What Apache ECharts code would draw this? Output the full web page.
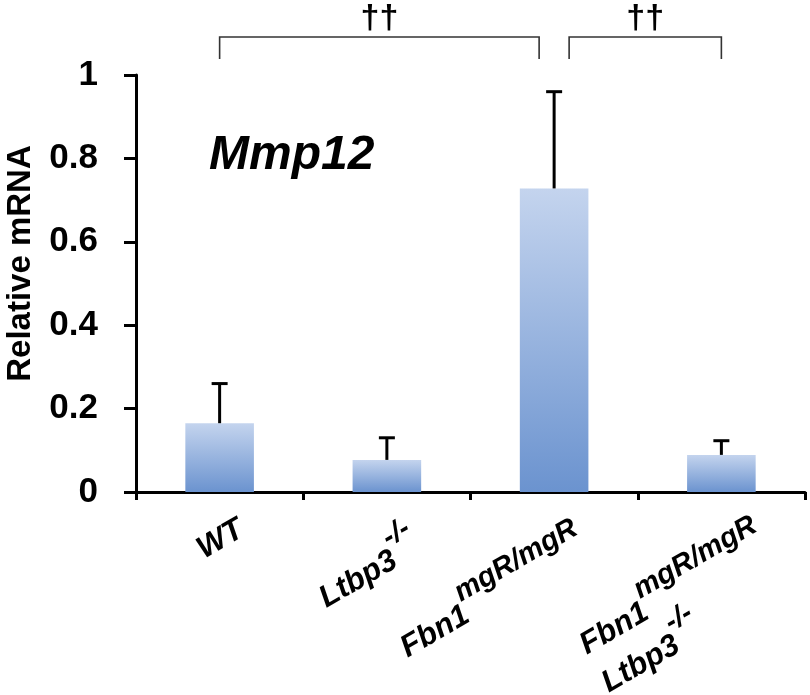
<!DOCTYPE html>
<html><head><meta charset="utf-8">
<script src="https://cdn.jsdelivr.net/npm/echarts@6/dist/echarts.min.js"></script>
<style>html,body{margin:0;padding:0;background:#fff}#c{width:810px;height:695px}</style>
</head><body><div id="c"></div>
<script>
const categories = ['WT', 'Ltbp3-/-', 'Fbn1mgR/mgR', 'Fbn1mgR/mgR Ltbp3-/-'];
const categoryLabels = ['{b|WT}', '{b|Ltbp3}{s|-/-}', '{b|Fbn1}{s|mgR/mgR}', '{b|Fbn1}{s|mgR/mgR}\n{bl|Ltbp3}{sl|-/-}'];
const meanValues = [0.165, 0.077, 0.728, 0.089];
const errorUpper = [0.26, 0.13, 0.96, 0.123];
const yMin = 0, yMax = 1, yStep = 0.2;
const comparisons = [[0, 2], [2, 3]];
const comparisonLabels = ['††', '††'];
const chartTitle = 'Mmp12';
const yTitle = 'Relative mRNA';

const FONT = "'Liberation Sans', Arial, sans-serif";
const chart = echarts.init(document.getElementById('c'), null, {renderer: 'canvas'});

const GRID = {left: 136, right: 5, top: 75, bottom: 203, outerBoundsMode: 'none', containLabel: false};

function usedElsewhere(idx, self) {
  return comparisons.some((c, j) => j !== self && (c[0] === idx || c[1] === idx));
}

const labelBase = {fontFamily: FONT, fontWeight: 'bold', fontStyle: 'italic', fill: '#000'};
const labelRich = {
  b: Object.assign({fontSize: 31, lineHeight: 31, verticalAlign: 'bottom'}, labelBase),
  s: Object.assign({fontSize: 29, lineHeight: 51, padding: [0, 0, 22, 0], verticalAlign: 'bottom'}, labelBase),
  bl: Object.assign({fontSize: 31, lineHeight: 44, verticalAlign: 'bottom', align: 'left'}, labelBase),
  sl: Object.assign({fontSize: 29, lineHeight: 44, padding: [0, 0, 22, 0], verticalAlign: 'bottom', align: 'left'}, labelBase)
};
const LABEL_ANGLE = 30 * Math.PI / 180;

chart.setOption({
  animation: false,
  backgroundColor: '#fff',
  title: {
    text: chartTitle, left: 204, top: 127,
    textStyle: {fontFamily: FONT, fontSize: 48, fontWeight: 'bold', fontStyle: 'italic', color: '#000'}
  },
  grid: GRID,
  xAxis: {
    type: 'category',
    data: categories,
    axisLine: {lineStyle: {color: '#000', width: 3}},
    axisTick: {show: true, length: 8, lineStyle: {color: '#000', width: 3}},
    axisLabel: {show: false}
  },
  yAxis: {
    type: 'value',
    min: yMin, max: yMax, interval: yStep,
    name: yTitle,
    nameLocation: 'middle',
    nameRotate: 90,
    nameGap: 99,
    nameTextStyle: {fontFamily: FONT, fontSize: 33, fontWeight: 'bold', color: '#000', padding: [0, 0, 0, 40]},
    splitLine: {show: false},
    axisLine: {show: true, lineStyle: {color: '#000', width: 3}},
    axisTick: {show: true, length: 12, lineStyle: {color: '#000', width: 3}},
    axisLabel: {margin: 38, fontFamily: FONT, fontSize: 35, fontWeight: 'bold', color: '#000'}
  },
  series: [
    {
      type: 'bar',
      data: meanValues,
      barWidth: '41%',
      itemStyle: {
        color: new echarts.graphic.LinearGradient(0, 0, 0, 1, [
          {offset: 0, color: '#c4d4ee'},
          {offset: 1, color: '#6b93cf'}
        ])
      },
      z: 2
    },
    {
      type: 'custom',
      clip: false,
      silent: true,
      z: 3,
      data: meanValues.map((m, i) => [i, m, errorUpper[i]]),
      encode: {x: 0, y: [1, 2]},
      renderItem: (params, api) => {
        const i = api.value(0);
        const p0 = api.coord([i, api.value(1)]);
        const p1 = api.coord([i, api.value(2)]);
        const half = 8;
        const st = {stroke: '#000', lineWidth: 3};
        return {type: 'group', children: [
          {type: 'line', shape: {x1: p0[0], y1: p0[1], x2: p1[0], y2: p1[1]}, style: st},
          {type: 'line', shape: {x1: p1[0] - half, y1: p1[1], x2: p1[0] + half, y2: p1[1]}, style: st}
        ]};
      }
    },
    {
      // category labels (rotated, with superscripts)
      type: 'custom',
      clip: false,
      silent: true,
      z: 4,
      data: categories.map((c, i) => [i, yMin]),
      encode: {x: 0, y: 1},
      renderItem: (params, api) => {
        const i = api.value(0);
        const p = api.coord([i, api.value(1)]);
        const extraLines = categoryLabels[i].split('\n').length - 1;
        return {
          type: 'text',
          x: p[0] + 14 + 12 * extraLines, y: p[1] + 22 - 3 * extraLines,
          rotation: LABEL_ANGLE,
          style: {text: categoryLabels[i], rich: labelRich, align: 'right', verticalAlign: 'top',
                  fontFamily: FONT, fontWeight: 'bold', fontStyle: 'italic', fill: '#000'}
        };
      }
    },
    {
      type: 'custom',
      clip: false,
      silent: true,
      z: 3,
      data: comparisons,
      encode: {x: [0, 1]},
      renderItem: (params, api) => {
        const k = params.dataIndex;
        const a = api.value(0), b = api.value(1);
        let x1 = api.coord([a, 0])[0];
        let x2 = api.coord([b, 0])[0];
        const inset = 15;
        if (usedElsewhere(a, k)) x1 += inset;
        if (usedElsewhere(b, k)) x2 -= inset;
        const top = GRID.top - 38;
        const legBottom = GRID.top - 16;
        return {type: 'group', children: [
          {type: 'polyline', shape: {points: [[x1, legBottom], [x1, top], [x2, top], [x2, legBottom]]},
           style: {stroke: '#333', lineWidth: 1.6, fill: null}},
          {type: 'text', x: (x1 + x2) / 2, y: top - 1,
           style: {text: comparisonLabels[k], fontFamily: FONT, fontSize: 34, fontWeight: 'bold',
                   fill: '#000', align: 'center', verticalAlign: 'bottom'}}
        ]};
      }
    }
  ]
});
</script>
</body></html>
